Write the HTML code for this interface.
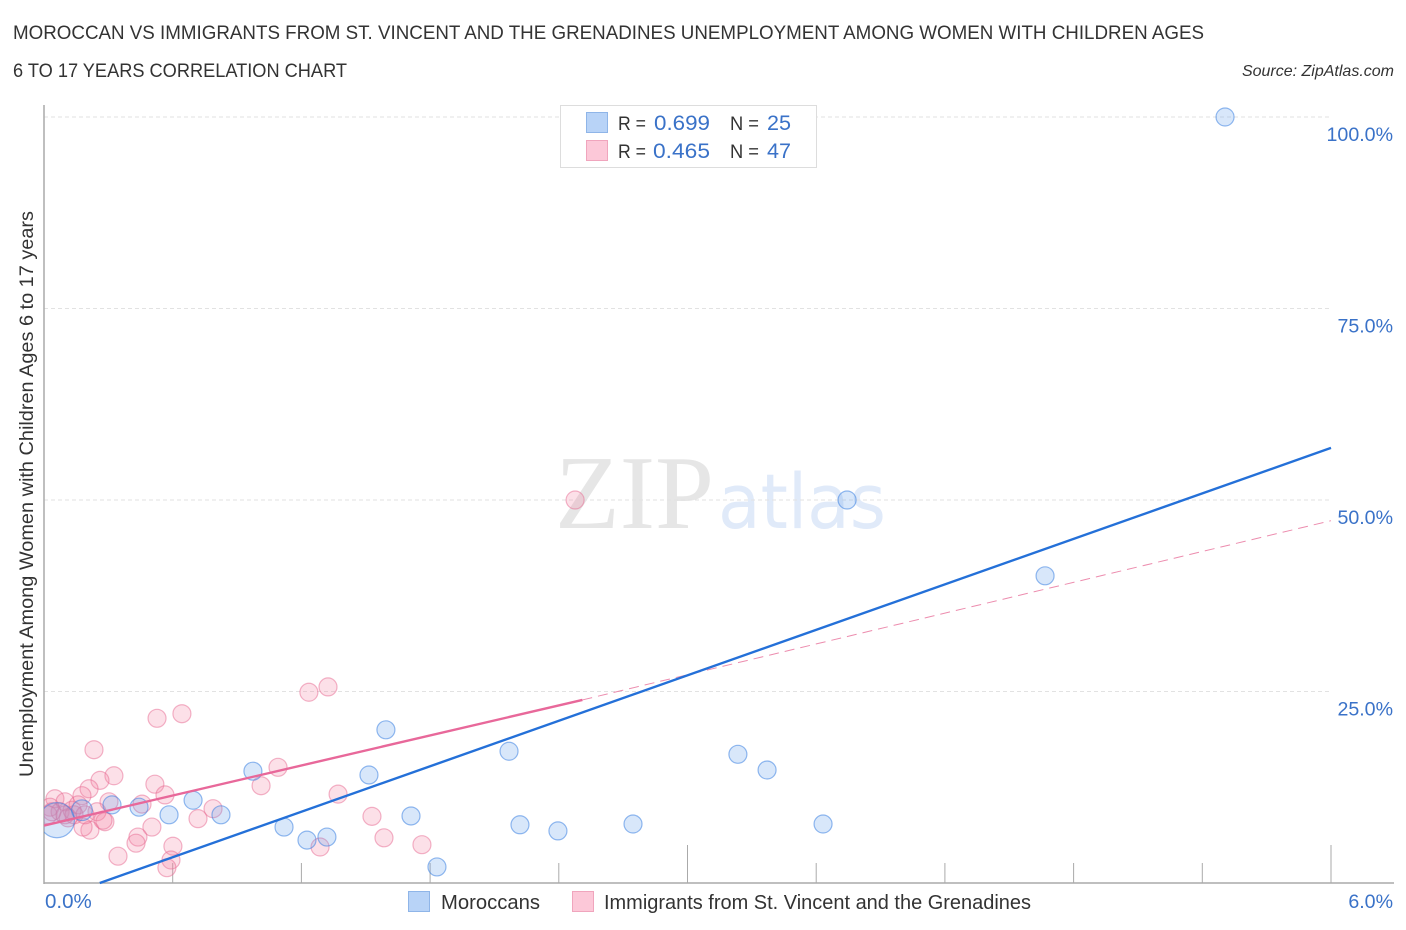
<!DOCTYPE html>
<html lang="en">
<head>
<meta charset="utf-8">
<title>Moroccan vs Immigrants from St. Vincent and the Grenadines Unemployment Chart</title>
<style>
html,body{margin:0;padding:0;background:#fff;width:1406px;height:930px;overflow:hidden}
svg{display:block;font-family:"Liberation Sans",sans-serif}
</style>
</head>
<body>
<svg id="chart" width="1406" height="930" viewBox="0 0 1406 930" xmlns="http://www.w3.org/2000/svg">
  <defs>
    <clipPath id="plot-clip"><rect x="44" y="100" width="1350" height="784"/></clipPath>
  </defs>
  <rect width="1406" height="930" fill="#fff"/>
  <text x="13" y="39" font-size="19.5" fill="#333" textLength="1191" lengthAdjust="spacingAndGlyphs">MOROCCAN VS IMMIGRANTS FROM ST. VINCENT AND THE GRENADINES UNEMPLOYMENT AMONG WOMEN WITH CHILDREN AGES</text>
  <text x="13" y="77" font-size="19.5" fill="#333" textLength="334" lengthAdjust="spacingAndGlyphs">6 TO 17 YEARS CORRELATION CHART</text>
  <text x="1394" y="76" font-size="16" font-style="italic" fill="#333" text-anchor="end">Source: ZipAtlas.com</text>
  <text transform="translate(33,777) rotate(-90)" font-size="19.5" fill="#333" textLength="566" lengthAdjust="spacingAndGlyphs">Unemployment Among Women with Children Ages 6 to 17 years</text>
  <text x="555" y="528" style="font-family:'Liberation Serif',serif" font-size="105" fill="#e6e6e6" textLength="159" lengthAdjust="spacingAndGlyphs">ZIP</text>
  <text x="718" y="528" style="font-family:'DejaVu Sans',sans-serif" font-size="76" fill="#e0eaf9" textLength="168" lengthAdjust="spacingAndGlyphs">atlas</text>
  <g id="grid"></g>
  <g id="axes"></g>
  <g id="points" clip-path="url(#plot-clip)"></g>
  <g id="trends"></g>
  <g>
    <rect x="560.5" y="105.5" width="256" height="62" fill="#fff" stroke="#ddd" stroke-width="1"/>
    <rect x="586.5" y="112.5" width="21" height="20" fill="#b8d3f7" stroke="#8fb5e8"/>
    <rect x="586.5" y="140.5" width="21" height="20" fill="#fcc8d8" stroke="#f0a5bd"/>
    <text x="618" y="130" font-size="19.5" fill="#333" textLength="28" lengthAdjust="spacingAndGlyphs">R =</text>
    <text x="654" y="130" font-size="21" fill="#3a72c8" textLength="56" lengthAdjust="spacingAndGlyphs">0.699</text>
    <text x="730" y="130" font-size="19.5" fill="#333" textLength="29" lengthAdjust="spacingAndGlyphs">N =</text>
    <text x="767" y="130" font-size="21" fill="#3a72c8" textLength="24" lengthAdjust="spacingAndGlyphs">25</text>
    <text x="618" y="158" font-size="19.5" fill="#333" textLength="28" lengthAdjust="spacingAndGlyphs">R =</text>
    <text x="653" y="158" font-size="21" fill="#3a72c8" textLength="57" lengthAdjust="spacingAndGlyphs">0.465</text>
    <text x="730" y="158" font-size="19.5" fill="#333" textLength="29" lengthAdjust="spacingAndGlyphs">N =</text>
    <text x="767" y="158" font-size="21" fill="#3a72c8" textLength="24" lengthAdjust="spacingAndGlyphs">47</text>
  </g>
  <g>
    <rect x="408.5" y="891.5" width="21" height="20" fill="#b8d3f7" stroke="#8fb5e8"/>
    <text x="441" y="909" font-size="20" fill="#333" textLength="99" lengthAdjust="spacingAndGlyphs">Moroccans</text>
    <rect x="572.5" y="891.5" width="21" height="20" fill="#fcc8d8" stroke="#f0a5bd"/>
    <text x="604" y="909" font-size="20" fill="#333" textLength="427" lengthAdjust="spacingAndGlyphs">Immigrants from St. Vincent and the Grenadines</text>
  </g>
</svg>
<script>
const moroccanX = [5.506,3.744,4.667,1.594,2.168,3.235,3.371,0.974,1.515,0.695,0.317,0.443,0.583,0.825,1.711,2.219,2.746,3.632,2.396,1.119,1.226,1.319,1.832,0.177,0.06];
const moroccanY = [100,50,40.1,20,17.2,16.8,14.75,14.6,14.1,10.8,10.2,9.9,8.9,8.9,8.75,7.6,7.7,7.7,6.8,7.3,5.6,6.0,2.1,9.5,8.2];
const moroccanWeight = [1,1,1,1,1,1,1,1,1,1,1,1,1,1,1,1,1,1,1,1,1,1,1,1.15,1.95];
const immigrantX = [2.476,1.324,1.235,0.643,0.527,0.233,0.326,0.261,1.091,1.012,0.517,0.21,0.177,0.564,1.371,0.303,0.457,0.788,0.051,0.098,0.028,0.247,0.284,0.214,0.182,0.503,0.438,0.429,0.601,0.592,0.573,0.345,0.718,1.529,1.585,1.762,1.287,0.019,0.075,0.112,0.131,0.159,0.14,0.275,0.098,0.037,0.191];
const immigrantY = [50,25.6,24.9,22.1,21.5,17.4,14.0,13.4,15.1,12.7,12.9,12.3,11.4,11.5,11.6,10.6,10.3,9.7,11.0,10.6,9.9,9.3,8.0,6.9,7.3,7.3,6.0,5.2,4.8,3.0,2.0,3.5,8.4,8.7,5.9,5.0,4.7,8.9,9.3,8.5,9.5,10.2,8.9,8.2,8.9,9.3,8.9];
const moroccanTrendX = [0.26,6];
const moroccanTrendY = [0,56.8];
const immigrantTrendX = [0,2.51];
const immigrantTrendY = [7.5,23.9];
const immigrantDashX = [2.51,6];
const immigrantDashY = [23.9,47.3];
const yTicks = [100,75,50,25];
const yTickLabels = ['100.0%','75.0%','50.0%','25.0%'];
const xTicks = [0.6,1.2,1.8,2.4,3.0,3.6,4.2,4.8,5.4,6.0];
const xMajorTicks = [3.0,6.0];
const xEndLabels = ['0.0%','6.0%'];

const NS = 'http://www.w3.org/2000/svg';
const sx = v => 44 + v * 214.5;
const sy = v => 883 - v * 7.66;
function make(tag, parent, attrs, text) {
  const el = document.createElementNS(NS, tag);
  for (const k in attrs) el.setAttribute(k, attrs[k]);
  if (text !== undefined) el.textContent = text;
  parent.appendChild(el);
  return el;
}
const grid = document.getElementById('grid');
const axes = document.getElementById('axes');
const trends = document.getElementById('trends');
const points = document.getElementById('points');

yTicks.forEach((t, i) => {
  const g = make('line', grid, {x1: 44, x2: 1331, y1: sy(t), y2: sy(t), stroke: '#e2e2e2', 'stroke-width': 1, 'stroke-dasharray': '4 3'});
  
  
  const l = make('text', axes, {x: 1393, y: sy(t) + 24, 'text-anchor': 'end', 'font-size': 19.6, fill: '#3a72c8'}, yTickLabels[i]);
  
  
});
const yAxis = make('line', axes, {x1: 44, x2: 44, y1: 105, y2: 884, stroke: '#aaa', 'stroke-width': 1.5});


const xAxis = make('line', axes, {x1: 44, x2: 1394, y1: 883, y2: 883, stroke: '#aaa', 'stroke-width': 1.5});


xTicks.forEach(t => {
  const top = xMajorTicks.includes(t) ? 845 : 863;
  const tk = make('line', axes, {x1: sx(t), x2: sx(t), y1: top, y2: 883, stroke: '#aaa', 'stroke-width': 1});
  
  
});
const x0 = make('text', axes, {x: 45, y: 908, 'font-size': 20.5, fill: '#3a72c8'}, xEndLabels[0]);


const x1 = make('text', axes, {x: 1393, y: 908, 'text-anchor': 'end', 'font-size': 19.6, fill: '#3a72c8'}, xEndLabels[1]);



immigrantX.forEach((v, i) => {
  const c = make('circle', points, {cx: sx(v), cy: sy(immigrantY[i]), r: 9, fill: 'rgba(245,130,165,.25)', stroke: 'rgba(232,105,145,.5)', 'stroke-width': 1.2});
  
  
});
moroccanX.forEach((v, i) => {
  const c = make('circle', points, {cx: sx(v), cy: sy(moroccanY[i]), r: 9 * moroccanWeight[i], fill: 'rgba(100,160,235,.25)', stroke: 'rgba(60,130,225,.55)', 'stroke-width': 1.2});
  
  
});
const dash = make('line', trends, {x1: sx(immigrantDashX[0]), y1: sy(immigrantDashY[0]), x2: sx(immigrantDashX[1]), y2: sy(immigrantDashY[1]), stroke: '#e8709a', 'stroke-width': 1, 'stroke-dasharray': '10 6', opacity: .8});


const blue = make('line', trends, {x1: sx(moroccanTrendX[0]), y1: sy(moroccanTrendY[0]), x2: sx(moroccanTrendX[1]), y2: sy(moroccanTrendY[1]), stroke: '#2470d8', 'stroke-width': 2.4});


const pink = make('line', trends, {x1: sx(immigrantTrendX[0]), y1: sy(immigrantTrendY[0]), x2: sx(immigrantTrendX[1]), y2: sy(immigrantTrendY[1]), stroke: '#e8689a', 'stroke-width': 2.4});


</script>
</body>
</html>
